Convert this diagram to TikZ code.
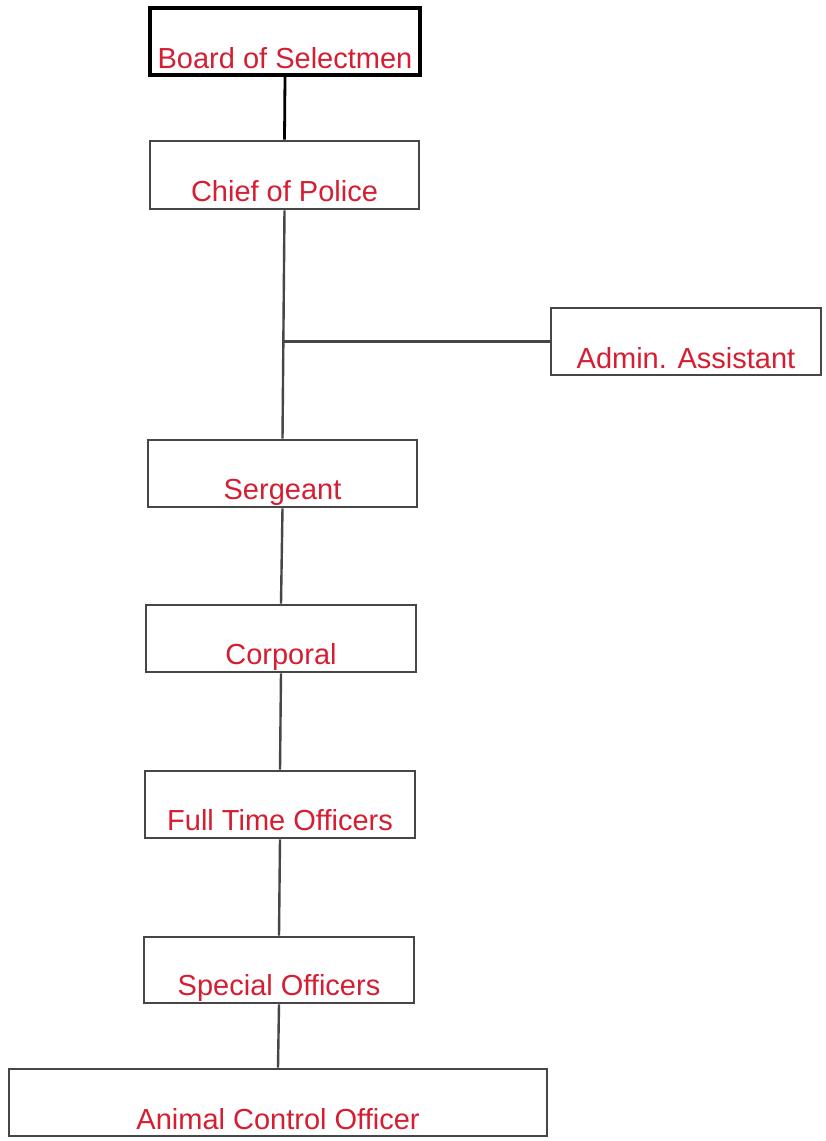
\documentclass[tikz,border=0pt]{standalone}
\usepackage{fontspec}
\setmainfont{Liberation Sans}
\usetikzlibrary{calc}
\definecolor{txtred}{RGB}{214,30,50}
\definecolor{edge}{RGB}{70,70,70}
\begin{document}
\begin{tikzpicture}[x=1pt,y=-1pt,
  box/.style={draw=edge,line width=2.6pt,minimum width=270pt,minimum height=67pt,inner sep=0pt,fill=white},
  topbox/.style={box,draw=black,line width=3.2pt},
  lbl/.style={text=txtred,font=\fontsize{29}{34}\selectfont,anchor=base,inner sep=0pt},
  link/.style={draw=edge,line width=2.4pt},
  toplink/.style={draw=black,line width=2.8pt}]
\useasboundingbox[fill=white] (0,0) rectangle (825,1141);
\node[topbox] (board) at (285,41.5) {};
\node[box,minimum width=269pt,minimum height=68pt] (chief) at (284.5,175) {};
\node[box] (admin) at (686,341.5) {};
\node[box,minimum width=269pt] (sergeant) at (282.5,473.5) {};
\node[box] (corporal) at (281,638.5) {};
\node[box] (fulltime) at (280,804.5) {};
\node[box,minimum height=66pt] (special) at (279,970) {};
\node[box,minimum width=538pt] (animal) at (278,1102.5) {};
\node[lbl] (tboard) at ([yshift=8pt]board.south) {Board of Selectmen};
\node[lbl] (tchief) at ([yshift=9pt]chief.south) {Chief of Police};
\node[lbl] (tadmin) at ([yshift=8pt]admin.south) {Admin. Assistant};
\node[lbl] (tsergeant) at ([yshift=9pt]sergeant.south) {Sergeant};
\node[lbl] (tcorporal) at ([yshift=9pt]corporal.south) {Corporal};
\node[lbl] (tfulltime) at ([yshift=9pt]fulltime.south) {Full Time Officers};
\node[lbl] (tspecial) at ([yshift=9pt]special.south) {Special Officers};
\node[lbl] (tanimal) at ([yshift=8pt]animal.south) {Animal Control Officer};
\coordinate (branch) at ($(chief.south)!0.571!(sergeant.north)$);
\draw[toplink] (board.south) -- (chief.north);
\draw[link] (chief.south) -- (sergeant.north);
\draw[link] (admin.west) -- (admin.west -| branch);
\draw[link] (sergeant.south) -- (corporal.north);
\draw[link] (corporal.south) -- (fulltime.north);
\draw[link] (fulltime.south) -- (special.north);
\draw[link] (special.south) -- (animal.north);
\end{tikzpicture}
\end{document}
